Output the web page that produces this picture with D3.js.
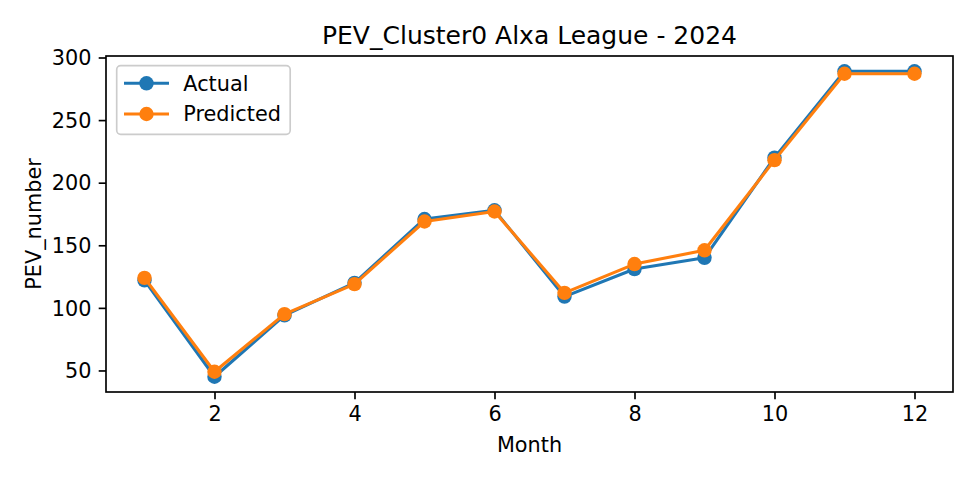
<!DOCTYPE html>
<html>
<head>
<meta charset="utf-8">
<script src="https://cdn.jsdelivr.net/npm/d3@7"></script>
<style>
  body { margin: 0; background: #fff; }
  svg { font-family: "DejaVu Sans", sans-serif; }
</style>
</head>
<body>
<div id="chart"></div>
<script>
// data
var months = [1, 2, 3, 4, 5, 6, 7, 8, 9, 10, 11, 12];
var actual = [122, 45, 94, 120, 171, 178, 109, 131, 140, 220, 289, 289];
var predicted = [124, 49, 95, 119, 169, 177, 112, 135, 146, 218, 287, 287];
var xTicks = [2, 4, 6, 8, 10, 12];
var yTicks = [50, 100, 150, 200, 250, 300];
var seriesNames = ["Actual", "Predicted"];
var colors = ["#1f77b4", "#ff7f0e"];

var W = 975, H = 480;
var margin = { top: 56, right: 22, bottom: 88, left: 106 },
  width = W - margin.left - margin.right,
  height = H - margin.top - margin.bottom;

var fs = 20.8;   // 10pt @150dpi
var tickLen = 7.3;
var dotR = 7.2;  // marker + edge

var svg = d3.select("#chart")
  .append("svg")
  .attr("width", W)
  .attr("height", H);

var g = svg.append("g")
  .attr("transform", "translate(" + margin.left + "," + margin.top + ")");

// matplotlib-style 5% margins
var x = d3.scaleLinear()
  .domain([1 - 0.05 * 11, 12 + 0.05 * 11])
  .range([0, width]);

var allVals = actual.concat(predicted);
var yMin = d3.min(allVals), yMax = d3.max(allVals), yr = yMax - yMin;
var y = d3.scaleLinear()
  .domain([yMin - 0.05 * yr, yMax + 0.05 * yr])
  .range([height, 0]);

// axes
var xAxis = g.append("g")
  .attr("transform", "translate(0," + height + ")")
  .call(d3.axisBottom(x).tickValues(xTicks).tickSize(tickLen).tickPadding(7.3).tickSizeOuter(0));

var yAxis = g.append("g")
  .call(d3.axisLeft(y).tickValues(yTicks).tickSize(tickLen).tickPadding(7.3).tickSizeOuter(0));

[xAxis, yAxis].forEach(function (a) {
  a.select(".domain").remove();
  a.selectAll(".tick line").attr("stroke", "#000").attr("stroke-width", 1.67);
  a.selectAll(".tick text").attr("fill", "#000").style("font-size", fs + "px")
    .style("font-family", "'DejaVu Sans', sans-serif");
});
yAxis.selectAll(".tick text").attr("dy", "0.35em");

// series
var line = d3.line()
  .x(function (d, i) { return x(months[i]); })
  .y(function (d) { return y(d); });

[actual, predicted].forEach(function (s, k) {
  g.append("path")
    .datum(s)
    .attr("fill", "none")
    .attr("stroke", colors[k])
    .attr("stroke-width", 3.1)
    .attr("stroke-linejoin", "round")
    .attr("stroke-linecap", "butt")
    .attr("d", line);

  g.selectAll(".dot" + k)
    .data(s)
    .enter()
    .append("circle")
    .attr("class", "dot" + k)
    .attr("cx", function (d, i) { return x(months[i]); })
    .attr("cy", function (d) { return y(d); })
    .attr("r", dotR)
    .attr("fill", colors[k]);
});

// frame
g.append("rect")
  .attr("width", width)
  .attr("height", height)
  .attr("fill", "none")
  .attr("stroke", "#000")
  .attr("stroke-width", 1.67);

// legend
var leg = g.append("g").attr("transform", "translate(10.7,9.7)");
leg.append("rect")
  .attr("width", 173.5)
  .attr("height", 68.6)
  .attr("rx", 4)
  .attr("fill", "#fff")
  .attr("fill-opacity", 0.8)
  .attr("stroke", "#cccccc")
  .attr("stroke-width", 1.67);

seriesNames.forEach(function (name, k) {
  var cy = 17.6 + k * 30.7;
  leg.append("line")
    .attr("x1", 7.3).attr("x2", 52.3)
    .attr("y1", cy).attr("y2", cy)
    .attr("stroke", colors[k])
    .attr("stroke-width", 3.1);
  leg.append("circle")
    .attr("cx", 29.8).attr("cy", cy).attr("r", dotR)
    .attr("fill", colors[k]);
  leg.append("text")
    .attr("x", 66.6).attr("y", cy)
    .attr("dy", "0.35em")
    .style("font-size", fs + "px")
    .text(name);
});

// title and labels
svg.append("text")
  .attr("x", margin.left + width / 2)
  .attr("y", margin.top - 12.5)
  .attr("text-anchor", "middle")
  .style("font-size", "25px")
  .text("PEV_Cluster0 Alxa League - 2024");

svg.append("text")
  .attr("x", margin.left + width / 2)
  .attr("y", 452)
  .attr("text-anchor", "middle")
  .style("font-size", fs + "px")
  .text("Month");

svg.append("text")
  .attr("transform", "translate(41," + (margin.top + height / 2) + ") rotate(-90)")
  .attr("text-anchor", "middle")
  .style("font-size", fs + "px")
  .text("PEV_number");
</script>
</body>
</html>
